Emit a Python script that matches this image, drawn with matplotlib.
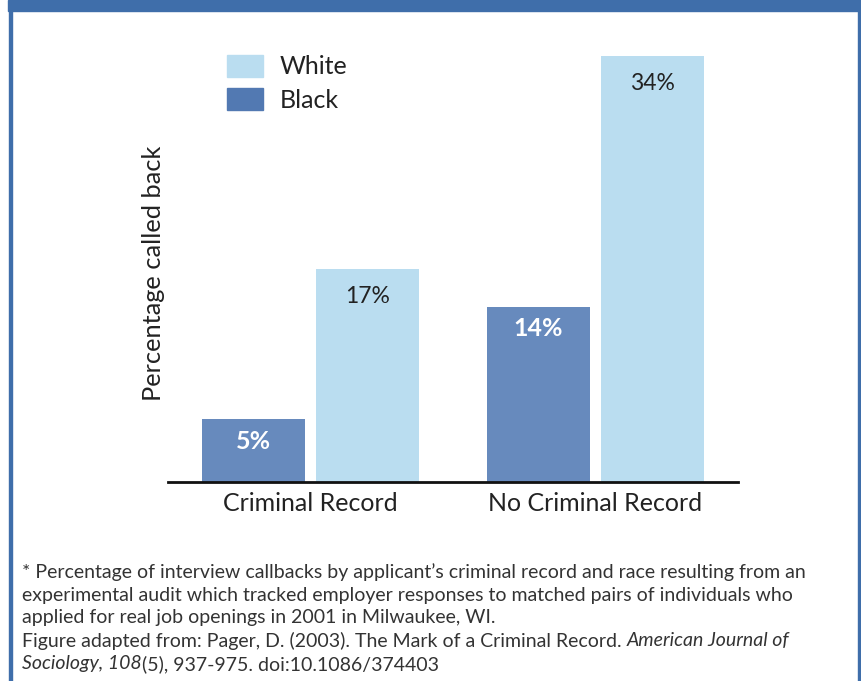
import matplotlib
matplotlib.use("Agg")
import matplotlib.pyplot as plt
import numpy as np
from matplotlib.patches import Rectangle

# data
groups = ["Criminal Record", "No Criminal Record"]
black_vals = [5, 14]
white_vals = [17, 34]
series = ["White", "Black"]

FRAME = "#3F6EAA"
WHITE_C = "#BADDF0"
BLACK_C = "#678ABD"
LEG_BLACK = "#5279B2"
TXT = "#222222"

plt.rcParams["font.family"] = ["Lato", "DejaVu Sans"]

W, H = 862, 681
fig = plt.figure(figsize=(W / 100, H / 100), dpi=100)


def fx(px):
    return px / W


def fy(py):
    return 1 - py / H


# frame around the figure
fig.patches.append(Rectangle((fx(8), fy(11)), fx(854), 11 / H, transform=fig.transFigure,
                             color=FRAME, zorder=0))
fig.patches.append(Rectangle((fx(9), 0), 3 / W, fy(11), transform=fig.transFigure,
                             color=FRAME, zorder=0))
fig.patches.append(Rectangle((fx(858), 0), 3 / W, fy(11), transform=fig.transFigure,
                             color=FRAME, zorder=0))

# axes: baseline at y=482, x from 168 to 738
ax = fig.add_axes([fx(168), fy(482), fx(738 - 168), (482 - 30) / H])
x = np.arange(len(groups))
bw = 0.361
off = 0.2
bb = ax.bar(x - off, black_vals, bw, color=BLACK_C, zorder=2)
wb = ax.bar(x + off, white_vals, bw, color=WHITE_C, zorder=2)
ax.set_xlim(-0.5, 1.5)
ax.set_ylim(0, 452 / 12.53)

for s in ["top", "right", "left"]:
    ax.spines[s].set_visible(False)
ax.spines["bottom"].set_linewidth(2)
ax.spines["bottom"].set_color("#111111")
ax.spines["bottom"].set_zorder(3)
ax.set_yticks([])
ax.set_xticks(x)
ax.set_xticklabels(groups, fontsize=18, color=TXT)
ax.tick_params(axis="x", length=0, pad=7)

for rect, v in zip(bb, black_vals):
    ax.annotate(f"{v}%", (rect.get_x() + rect.get_width() / 2, v), xytext=(0, -16),
                textcoords="offset points", ha="center", va="center",
                color="white", fontsize=18, fontweight="bold")
for rect, v in zip(wb, white_vals):
    ax.annotate(f"{v}%", (rect.get_x() + rect.get_width() / 2, v), xytext=(0, -20),
                textcoords="offset points", ha="center", va="center",
                color=TXT, fontsize=16.5)

fig.text(fx(154), fy(273), "Percentage called back", rotation=90, ha="center", va="center",
         fontsize=18.3, color=TXT)

# legend, drawn by hand so it sits where the reference has it
leg_cols = [WHITE_C, LEG_BLACK]
for i, (name, col) in enumerate(zip(series, leg_cols)):
    top = 55 + 33 * i
    fig.patches.append(Rectangle((fx(227), fy(top + 22)), 36 / W, 22 / H,
                                 transform=fig.transFigure, color=col))
    fig.text(fx(280), fy(top + 12), name, fontsize=18, color=TXT, ha="left", va="center")

# footnote
fs = 14
lines = [
    [("* Percentage of interview callbacks by applicant\u2019s criminal record and race resulting from an", "normal")],
    [("experimental audit which tracked employer responses to matched pairs of individuals who", "normal")],
    [("applied for real job openings in 2001 in Milwaukee, WI.", "normal")],
    [("Figure adapted from: Pager, D. (2003). The Mark of a Criminal Record. ", "normal"),
     ("American Journal of", "italic")],
    [("Sociology, 108", "italic"), ("(5), 937-975. doi:10.1086/374403", "normal")],
]
ys = [572, 595, 618, 641, 664]
renderer = fig.canvas.get_renderer()
for parts, yp in zip(lines, ys):
    xp = 22
    for txt, style in parts:
        t = fig.text(fx(xp), fy(yp), txt, fontsize=fs, style=style, color="#333333",
                     ha="left", va="center")
        bbox = t.get_window_extent(renderer=renderer)
        xp += bbox.width

fig.savefig("out.png", dpi=100)
